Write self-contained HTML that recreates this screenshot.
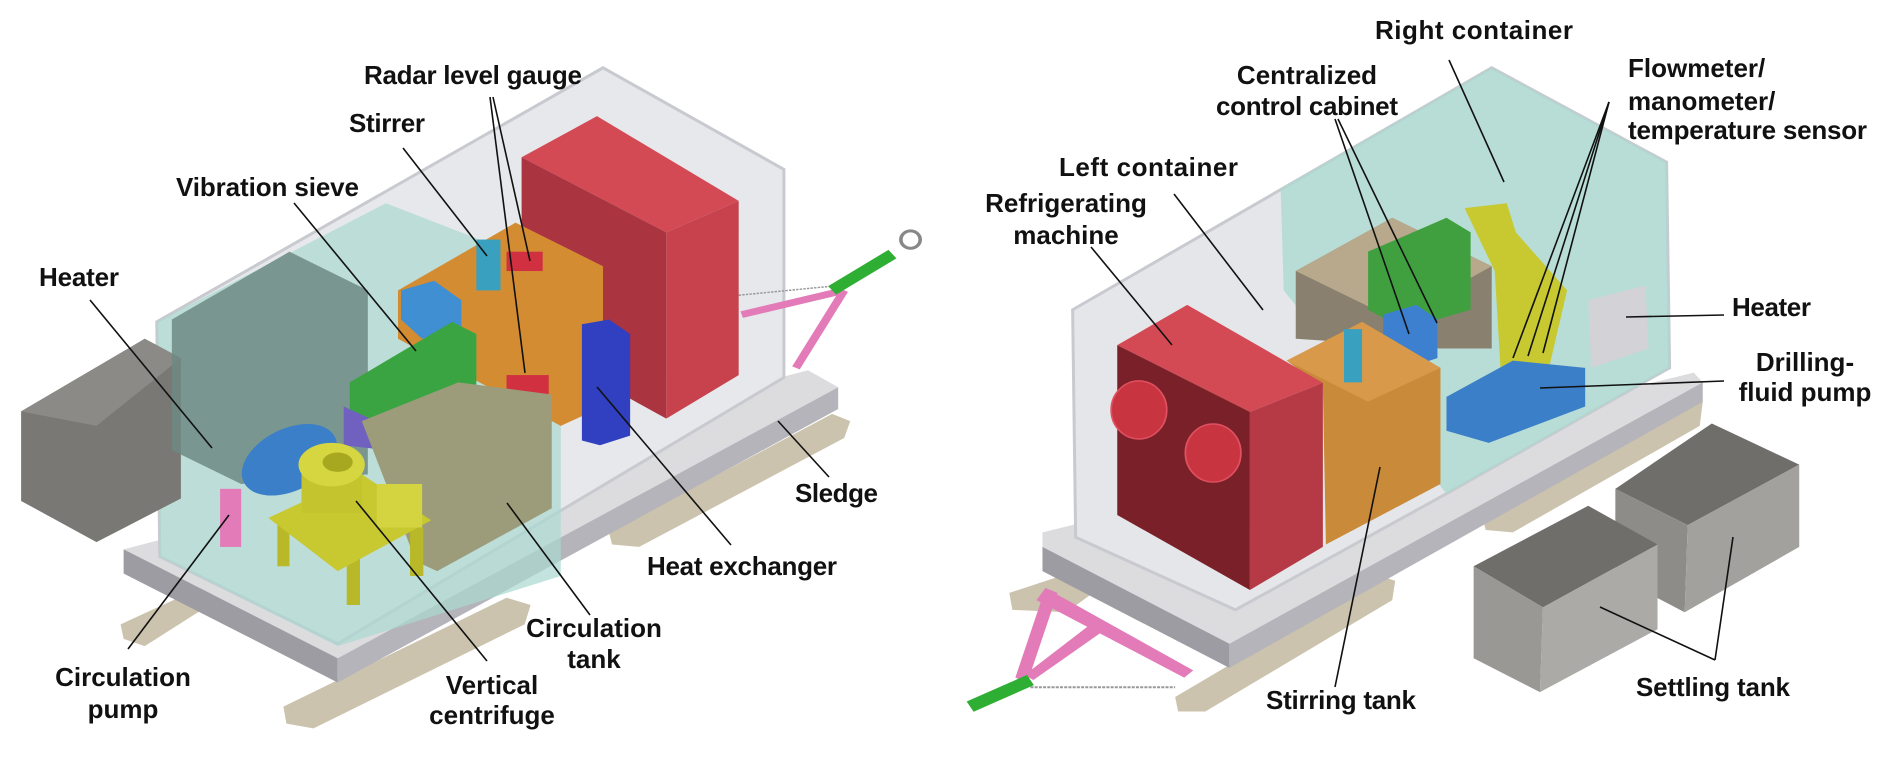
<!DOCTYPE html>
<html><head><meta charset="utf-8"><style>
html,body{margin:0;padding:0;background:#fff;width:1892px;height:759px;overflow:hidden;}
svg{display:block}
text{font-family:"Liberation Sans",Arial,sans-serif;font-weight:bold;font-size:26px;fill:#111}
</style></head><body>
<svg width="1892" height="759" viewBox="0 0 1892 759" xmlns="http://www.w3.org/2000/svg">
<g transform="scale(0.603,0.484)">
  <polygon points="200,1290 340,1210 360,1240 240,1335 205,1320" fill="#cbc3ad"/>
  <polygon points="470,1460 840,1235 880,1250 870,1290 520,1505 475,1495" fill="#cbc3ad"/>
  <polygon points="1010,1100 1380,855 1410,870 1400,905 1060,1130 1015,1125" fill="#cbc3ad"/>
  <polygon points="205,1135 1340,765 1390,800 560,1360" fill="#dcdcdf"/>
  <polygon points="205,1135 560,1360 560,1410 205,1185" fill="#9c9ca2"/>
  <polygon points="560,1360 1390,800 1390,845 560,1410" fill="#b4b4ba"/>
  <polygon points="260,665 1000,140 1300,350 1300,780 560,1330 265,1150" fill="#e6e8ec" stroke="#c8cad0" stroke-width="3" vector-effect="non-scaling-stroke"/>
  <polygon points="260,665 640,420 930,560 930,1190 560,1335 265,1150" fill="#a9d9d0" opacity="0.7"/>
  <line x1="1225" y1="610" x2="1390" y2="590" stroke="#999" stroke-width="3" stroke-dasharray="4,2"/>
  <line x1="1230" y1="650" x2="1400" y2="600" stroke="#e27bb8" stroke-width="14"/>
  <line x1="1320" y1="760" x2="1400" y2="600" stroke="#e27bb8" stroke-width="14"/>
  <line x1="1380" y1="600" x2="1480" y2="525" stroke="#2fae34" stroke-width="22"/>
  <ellipse cx="1510" cy="495" rx="16" ry="18" fill="none" stroke="#888" stroke-width="6"/>
  <polygon points="35,850 240,700 300,740 300,1030 160,1120 35,1035" fill="#7a7874"/>
  <polygon points="35,850 240,700 300,740 160,880" fill="#8c8a86"/>
  <polygon points="285,660 480,520 610,600 610,980 400,1000 285,930" fill="#6f8a84" opacity="0.85"/>
  <polygon points="865,325 990,240 1225,415 1105,480" fill="#d34a55"/>
  <polygon points="865,325 1105,480 1105,865 865,700" fill="#aa3440"/>
  <polygon points="1105,480 1225,415 1225,775 1105,865" fill="#c7424d"/>
  <polygon points="660,600 855,460 1000,550 1000,840 930,880 660,700" fill="#d38c32"/>
  <polygon points="665,600 720,580 765,620 765,680 700,700 665,660" fill="#3f8fd2"/>
  <rect x="790" y="495" width="40" height="105" fill="#3aa0c0"/>
  <rect x="840" y="520" width="60" height="40" fill="#d03040"/>
  <rect x="840" y="775" width="70" height="45" fill="#d03040"/>
  <polygon points="580,790 750,665 790,690 790,800 650,890 580,850" fill="#3ba442"/>
  <polygon points="570,840 640,880 640,930 570,920" fill="#7060c0"/>
  <polygon points="600,870 760,790 915,815 915,1050 725,1180 690,1160" fill="#9c9c7a"/>
  <ellipse cx="480" cy="950" rx="90" ry="60" transform="rotate(-40 480 950)" fill="#3a7fc8"/>
  <polygon points="965,670 1010,660 1045,690 1045,900 995,920 965,910" fill="#3040c0"/>
  <rect x="460" y="1080" width="20" height="90" fill="#b8b828"/>
  <rect x="575" y="1150" width="22" height="100" fill="#b8b828"/>
  <rect x="680" y="1090" width="22" height="100" fill="#b8b828"/>
  <polygon points="445,1070 600,980 715,1075 560,1180" fill="#c8c830"/>
  <rect x="500" y="960" width="100" height="100" fill="#c4c42e"/>
  <rect x="625" y="1000" width="75" height="90" fill="#d4d440"/>
  <ellipse cx="550" cy="960" rx="55" ry="45" fill="#d6d640"/>
  <ellipse cx="560" cy="955" rx="25" ry="20" fill="#a8a820"/>
  <rect x="365" y="1010" width="35" height="120" fill="#e27bb8"/>
</g>
<g transform="translate(946,0) scale(0.603,0.484)">
  <polygon points="105,1225 190,1190 260,1210 200,1265 110,1260" fill="#cbc3ad"/>
  <polygon points="380,1440 720,1190 745,1200 740,1240 430,1470 385,1470" fill="#cbc3ad"/>
  <polygon points="890,1070 1230,820 1255,830 1250,880 940,1100 895,1095" fill="#cbc3ad"/>
  <polygon points="160,1100 1240,770 1255,790 470,1330 160,1130" fill="#dcdcdf"/>
  <polygon points="160,1130 470,1330 470,1380 160,1180" fill="#9c9ca2"/>
  <polygon points="470,1330 1255,790 1255,830 470,1380" fill="#b4b4ba"/>
  <polygon points="210,640 905,140 1195,335 1200,760 830,1020 480,1260 215,1110" fill="#e4e6ea" stroke="#c8cad0" stroke-width="3" vector-effect="non-scaling-stroke"/>
  <polygon points="555,390 905,140 1195,335 1200,760 830,1020 560,600" fill="#a9d9d0" opacity="0.75"/>
  <line x1="140" y1="1420" x2="380" y2="1420" stroke="#999" stroke-width="4" stroke-dasharray="5,2"/>
  <polygon points="165,1215 410,1385 395,1400 150,1240" fill="#e27bb8"/>
  <polygon points="165,1215 185,1225 135,1410 115,1400" fill="#e27bb8"/>
  <polygon points="250,1280 265,1300 145,1405 130,1395" fill="#e27bb8"/>
  <line x1="40" y1="1460" x2="140" y2="1405" stroke="#2fae34" stroke-width="24"/>
  <polygon points="580,560 740,450 905,550 905,720 820,720 580,700" fill="#8a8070"/>
  <polygon points="580,560 740,450 905,550 745,660" fill="#b8a88c"/>
  <polygon points="700,520 830,450 870,480 870,640 760,680 700,640" fill="#40a040"/>
  <polygon points="860,430 930,420 945,480 1030,600 1000,760 920,770 910,560" fill="#c8c830"/>
  <polygon points="725,650 780,630 815,660 815,740 765,760 725,740" fill="#3d80d0"/>
  <polygon points="830,820 940,745 1060,760 1060,840 900,915 830,890" fill="#3a7fc8"/>
  <polygon points="1065,620 1160,590 1165,720 1070,760" fill="#d2d2d7"/>
  <polygon points="565,745 690,665 820,760 820,1000 630,1125 625,800" fill="#c98a3a"/>
  <polygon points="565,745 690,665 820,760 700,830" fill="#d89a4a"/>
  <rect x="660" y="680" width="30" height="110" fill="#3aa0c0"/>
  <polygon points="284,713 400,630 625,791 504,851" fill="#d34a55"/>
  <polygon points="284,713 504,851 504,1219 284,1064" fill="#7a2028"/>
  <polygon points="504,851 625,791 625,1130 504,1219" fill="#b53a45"/>
  <ellipse cx="320" cy="847" rx="46" ry="60" fill="#c83440" stroke="#e05060" stroke-width="3"/>
  <ellipse cx="443" cy="936" rx="46" ry="60" fill="#c83440" stroke="#e05060" stroke-width="3"/>
  <polygon points="1110,1010 1270,875 1415,960 1230,1085" fill="#6f6e6a"/>
  <polygon points="1110,1010 1230,1085 1225,1265 1110,1190" fill="#8e8c88"/>
  <polygon points="1230,1085 1415,960 1415,1130 1225,1265" fill="#a3a19d"/>
  <polygon points="875,1170 1065,1045 1180,1125 990,1255" fill="#6f6e6a"/>
  <polygon points="875,1170 990,1255 985,1430 875,1360" fill="#9a9894"/>
  <polygon points="990,1255 1180,1125 1180,1300 985,1430" fill="#acaaa6"/>
</g>
<g stroke="#111" stroke-width="1.6" fill="none">
  <line x1="490" y1="97" x2="525" y2="373"/><line x1="493" y1="97" x2="530" y2="261"/>
  <line x1="403" y1="148" x2="487" y2="256"/>
  <line x1="294" y1="203" x2="416" y2="351"/>
  <line x1="90" y1="300" x2="212" y2="448"/>
  <line x1="128" y1="649" x2="229" y2="515"/>
  <line x1="487" y1="661" x2="356" y2="501"/>
  <line x1="590" y1="615" x2="507" y2="503"/>
  <line x1="731" y1="545" x2="597" y2="387"/>
  <line x1="829" y1="477" x2="778" y2="421"/>
  <line x1="1449" y1="60" x2="1504" y2="182"/>
  <line x1="1335" y1="119" x2="1409" y2="334"/><line x1="1338" y1="119" x2="1437" y2="323"/>
  <line x1="1609" y1="102" x2="1513" y2="358"/><line x1="1609" y1="102" x2="1528" y2="356"/><line x1="1609" y1="102" x2="1543" y2="353"/>
  <line x1="1174" y1="194" x2="1263" y2="310"/>
  <line x1="1091" y1="247" x2="1172" y2="345"/>
  <line x1="1626" y1="317" x2="1724" y2="315"/>
  <line x1="1540" y1="388" x2="1724" y2="381"/>
  <line x1="1335" y1="687" x2="1380" y2="467"/>
  <line x1="1715" y1="660" x2="1600" y2="607"/><line x1="1715" y1="660" x2="1733" y2="537"/>
</g>
<text x="364" y="84" textLength="218">Radar level gauge</text>
<text x="349" y="132" textLength="76">Stirrer</text>
<text x="176" y="196" textLength="183">Vibration sieve</text>
<text x="39" y="286" textLength="80">Heater</text>
<text x="123" y="686" text-anchor="middle">Circulation</text>
<text x="123" y="718" text-anchor="middle">pump</text>
<text x="492" y="694" text-anchor="middle">Vertical</text>
<text x="492" y="724" text-anchor="middle">centrifuge</text>
<text x="594" y="637" text-anchor="middle">Circulation</text>
<text x="594" y="668" text-anchor="middle">tank</text>
<text x="647" y="575" textLength="190">Heat exchanger</text>
<text x="795" y="502" textLength="83">Sledge</text>
<text x="1375" y="39" textLength="198">Right container</text>
<text x="1307" y="84" text-anchor="middle">Centralized</text>
<text x="1216" y="115" textLength="182">control cabinet</text>
<text x="1628" y="77">Flowmeter/</text>
<text x="1628" y="110">manometer/</text>
<text x="1628" y="139" textLength="239">temperature sensor</text>
<text x="1059" y="176" textLength="179">Left container</text>
<text x="1066" y="212" text-anchor="middle">Refrigerating</text>
<text x="1066" y="244" text-anchor="middle">machine</text>
<text x="1732" y="316" textLength="79">Heater</text>
<text x="1805" y="371" text-anchor="middle">Drilling-</text>
<text x="1805" y="401" text-anchor="middle">fluid pump</text>
<text x="1266" y="709" textLength="150">Stirring tank</text>
<text x="1636" y="696" textLength="154">Settling tank</text>
</svg>
</body></html>
